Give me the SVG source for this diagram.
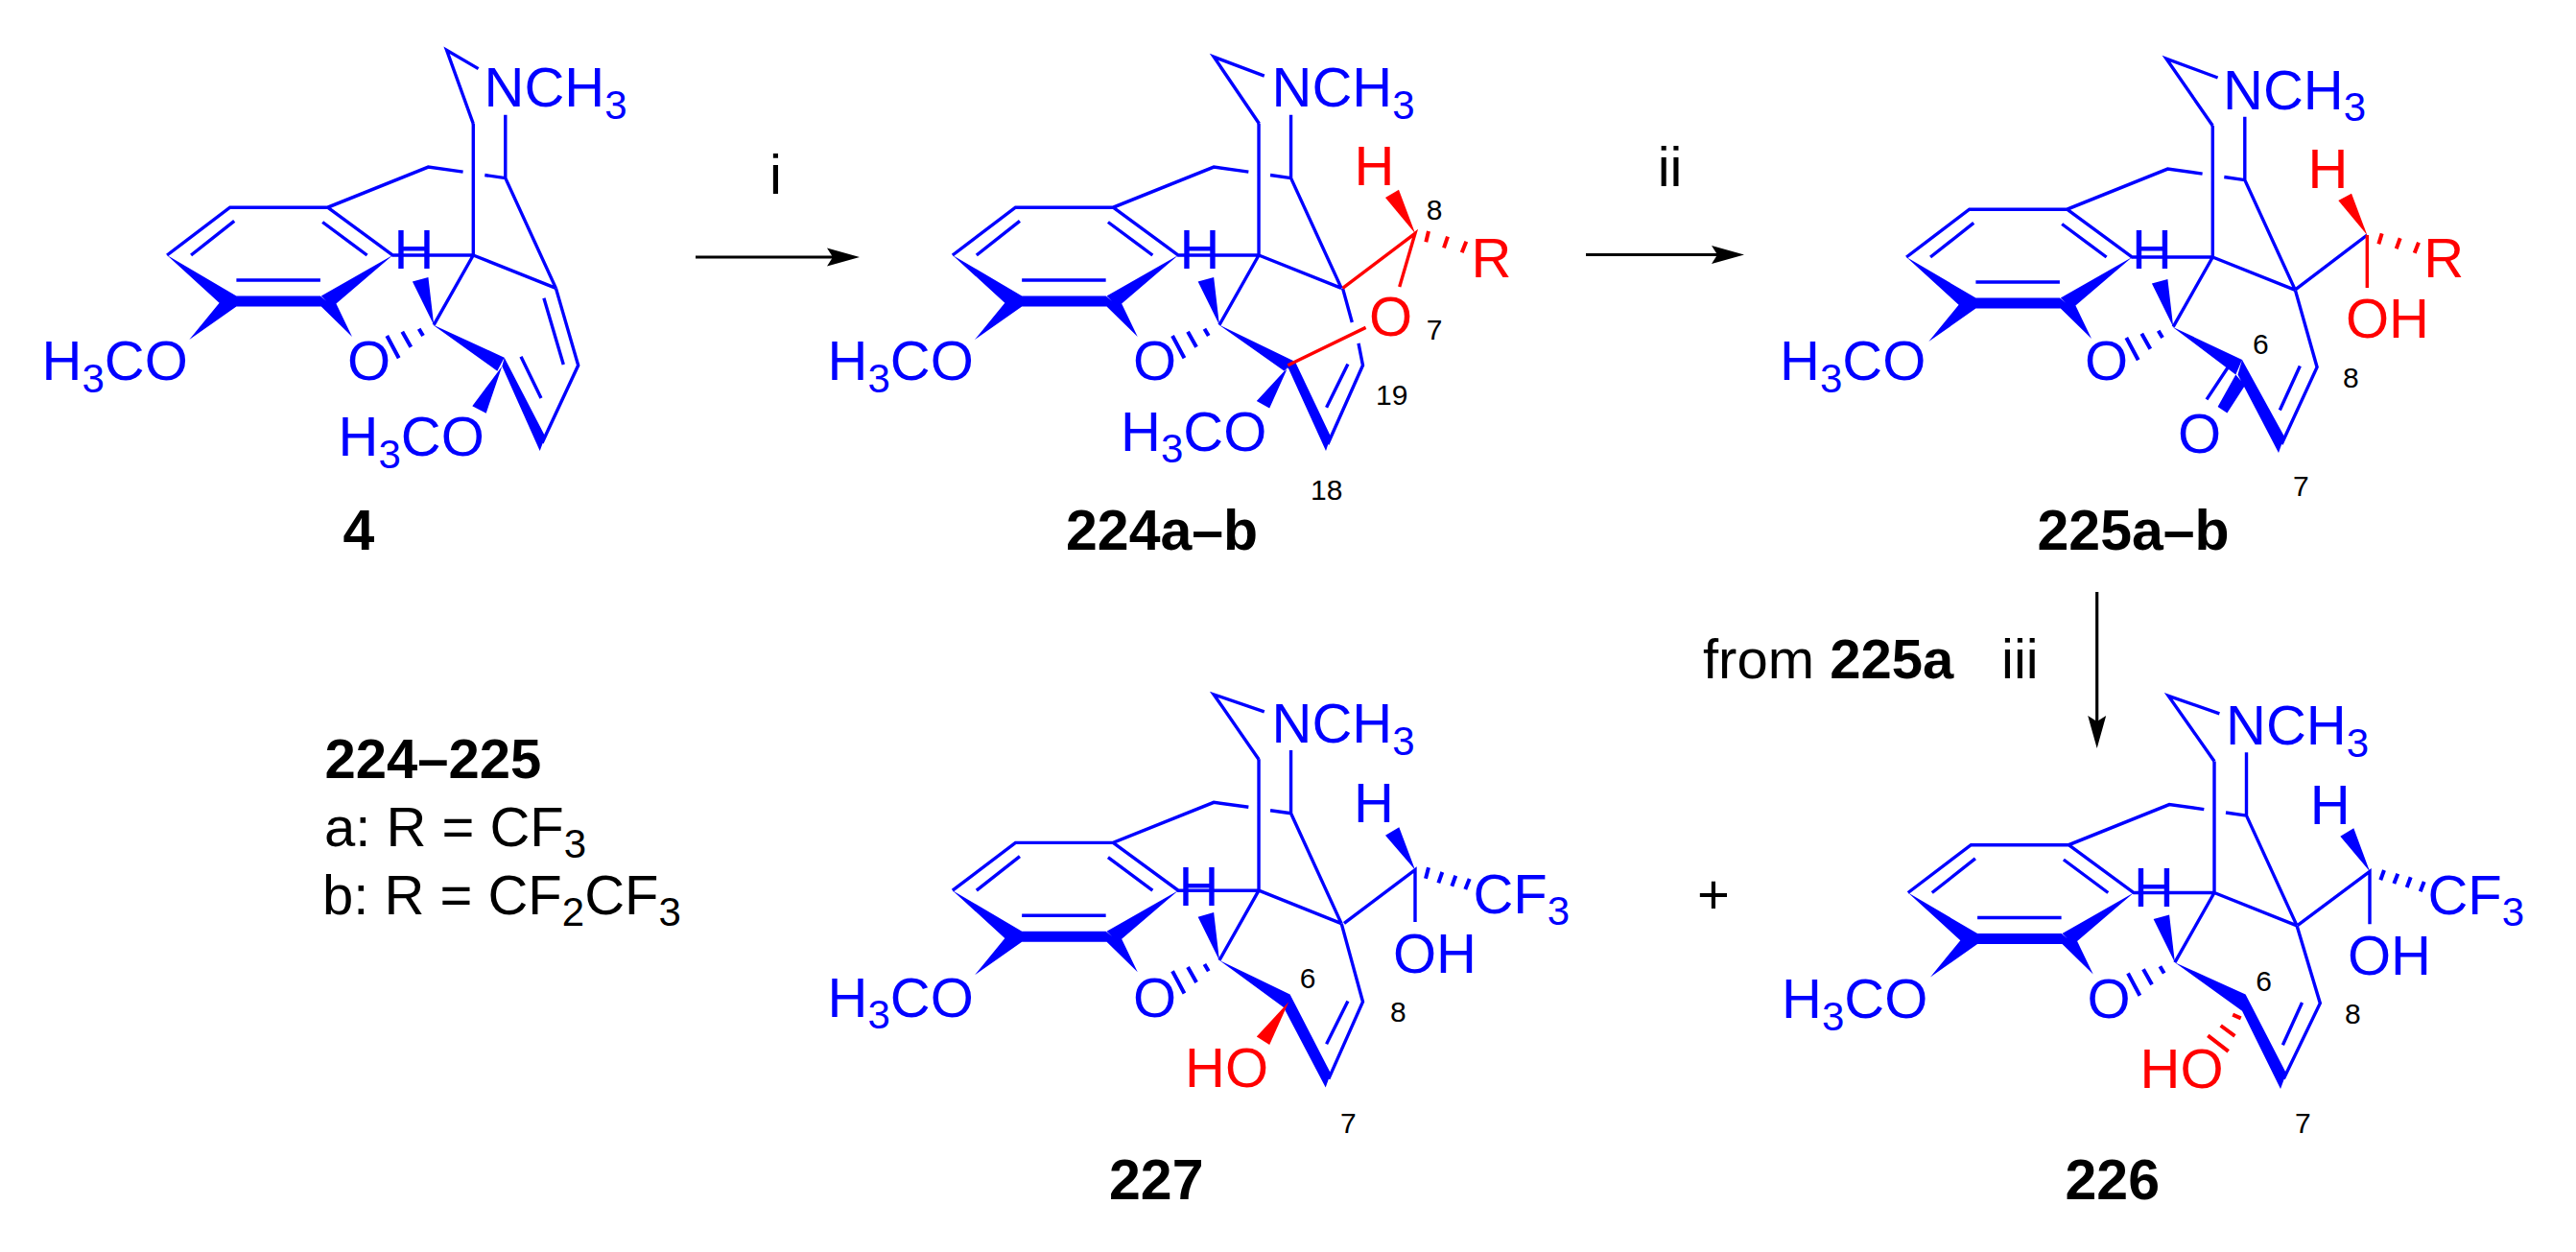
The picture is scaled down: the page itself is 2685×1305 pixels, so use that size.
<svg xmlns="http://www.w3.org/2000/svg" width="2685" height="1305" viewBox="0 0 2685 1305">
<style>
text{font-family:"Liberation Sans",Arial,sans-serif;font-size:58px;fill:#000}
.bl{fill:#00f}.rd{fill:#f00}
.n{font-size:30px}
.B{font-weight:700}
.L{font-weight:700;font-size:59px}
.s{font-size:42px}
.bb{fill:none;stroke:#00f;stroke-width:3.4}
.rb{fill:none;stroke:#f00;stroke-width:3.4}
.bh{fill:none;stroke:#00f;stroke-width:4}
.rh{fill:none;stroke:#f00;stroke-width:4}
.bw{fill:#00f;stroke:none}
.rw{fill:#f00;stroke:none}
.ar{fill:none;stroke:#000;stroke-width:3.2;marker-end:url(#head)}
</style>
<defs>
<marker id="head" markerUnits="userSpaceOnUse" markerWidth="34" markerHeight="20" viewBox="0 0 34 20" refX="6" refY="10" orient="auto"><path d="M0 .5L34 10L0 19.5L6 10Z" fill="#000"/></marker>
<g id="core">
<path class="bb" d="M493.3 129V266M526.8 119.8V185.6L505.3 182.5M482.6 179.1L446.4 174.1L341.5 216.2H239.7L174.1 266M341.5 216.2L409.4 266H493.3M244.2 230.4L199.1 266M336.2 231.5L382.6 266M246.4 292H333.9M493.3 266L452.2 338.7M493.3 266L579.4 300.4M526.8 185.6L579.4 300.4"/>
<path class="bh" d="M436.7 342.7L441 350M419.3 345.7L428.3 361.7M403.3 350L415.7 373.3"/>
<path class="bw" d="M239.7 313.8L246.4 308.5H333.9L340.2 313.8L334.8 319.6H246.4ZM174.1 266L246.4 308.5L239.7 313.8L228.6 315.7ZM409.4 266L334.8 308.5L340.2 313.8L350.4 316.5ZM197.3 354L228.6 315.7L239.7 313.8L246.4 319.6ZM367 351L334.8 319.6L340.2 313.8L350.4 316.5ZM452.2 338.7L429.9 293.5L446.4 288.9Z"/>
</g>
</defs>
<g id="connectors">
<path class="ar" d="M725 268H868"/>
<path class="ar" d="M1653 265.5H1790"/>
<path class="ar" d="M2185.7 617V752"/>
</g>
<g id="reagents">
<text x="802" y="201.7">i</text>
<text x="1727.7" y="194.3">ii</text>
<text x="2086" y="707.4">iii</text>
<text x="1775" y="707.4">from <tspan class="B">225a</tspan></text>
<text x="1769" y="952">+</text>
</g>
<g id="legend">
<text class="B" x="338.5" y="810.7">224–225</text>
<text x="338" y="881.7">a: R = CF<tspan class="s" dy="12.5">3</tspan></text>
<text x="336" y="952.7">b: R = CF<tspan class="s" dy="12.5">2</tspan><tspan dy="-12.5">CF</tspan><tspan class="s" dy="12.5">3</tspan></text>
</g>
<g id="mol4">
<use href="#core"/>
<path class="bb" d="M498.6 71.6L465.6 52.4L493.3 129M579.4 300.4L602.7 380.8L565 461.7M566.9 310.8L587.3 380M543 371.7L564 415"/>
<path class="bw" d="M450.7 338.3L525.7 372.7L518.3 386.7ZM525.7 372.7L568.3 455L562.7 470L523.3 381.7ZM523.3 381.7L492.3 423.3L506.7 430.7Z"/>
<text class="bl" x="504.5" y="111">NCH<tspan class="s" dy="12.5">3</tspan></text>
<text class="bl" x="410.5" y="280">H</text>
<text class="bl" x="362" y="396">O</text>
<text class="bl" x="43.5" y="396">H<tspan class="s" dy="12.5">3</tspan><tspan dy="-12.5">CO</tspan></text>
<text class="bl" x="352.5" y="475">H<tspan class="s" dy="12.5">3</tspan><tspan dy="-12.5">CO</tspan></text>
<text class="L" x="357.5" y="573">4</text>
</g>
<g id="mol224">
<use href="#core" transform="translate(818.75 0)"/>
<path class="bb" d="M1317.8 79.2L1265.2 59.3L1312.5 129M1399.5 300.4L1409.3 336M1416 357.8L1420.5 380.8L1383.9 463M1404.9 379.6L1382.6 424.8"/>
<path class="bw" d="M1270 338.3L1350 377L1339 387ZM1350 377L1387 455L1382 470L1342.4 382.7ZM1342.4 382.7L1309.8 417.9L1323.2 425.6Z"/>
<path class="rb" d="M1342.4 380.8L1423.6 341.4M1399.5 300.4L1475 243.3L1458.7 299"/>
<path class="rw" d="M1475 243.3L1444 206L1458 197.7Z"/>
<path class="rh" d="M1489 241L1486.3 252.3M1509 246.7L1505 258.3M1528.3 251.7L1523.7 263.3"/>
<text class="bl" x="1325.5" y="111">NCH<tspan class="s" dy="12.5">3</tspan></text>
<text class="bl" x="1229.5" y="280">H</text>
<text class="bl" x="1181" y="396">O</text>
<text class="bl" x="862.5" y="396">H<tspan class="s" dy="12.5">3</tspan><tspan dy="-12.5">CO</tspan></text>
<text class="bl" x="1168" y="469.6">H<tspan class="s" dy="12.5">3</tspan><tspan dy="-12.5">CO</tspan></text>
<text class="rd" x="1411.4" y="192.7">H</text>
<text class="rd" x="1533.5" y="289">R</text>
<text class="rd" x="1427" y="350">O</text>
<text class="n" x="1486.7" y="229">8</text>
<text class="n" x="1486.7" y="354">7</text>
<text class="n" x="1434" y="421.7">19</text>
<text class="n" x="1366" y="520.5">18</text>
<text class="L" x="1111" y="573">224a–b</text>
</g>
<g id="mol225">
<use href="#core" transform="translate(1813 2)"/>
<path class="bb" d="M2311.6 81L2258 61.2L2306.3 131M2392.4 302.4L2415.1 382.7L2378.1 463M2397.3 381.5L2376.3 427.5M2322.3 382.7L2300 416.4M2392.8 301.6L2467.3 245"/>
<path class="bw" d="M2264.4 340.7L2337 375L2330.3 390.4ZM2337 375L2381 455L2375 472L2332.5 390.4ZM2330.3 390.4L2340 401.8L2321.4 430.5L2311.6 424Z"/>
<path class="rb" d="M2467.3 245V300"/>
<path class="rw" d="M2467.3 245L2437.3 209L2451 201.7Z"/>
<path class="rh" d="M2482.7 243.3L2479.3 254.3M2501.7 248.3L2497.7 259.3M2521 252.7L2516.7 263.7"/>
<text class="bl" x="2317" y="113.7">NCH<tspan class="s" dy="12.5">3</tspan></text>
<text class="bl" x="2222" y="280">H</text>
<text class="bl" x="2173" y="396">O</text>
<text class="bl" x="1855" y="396">H<tspan class="s" dy="12.5">3</tspan><tspan dy="-12.5">CO</tspan></text>
<text class="bl" x="2270" y="471.5">O</text>
<text class="rd" x="2405.4" y="195.7">H</text>
<text class="rd" x="2526.3" y="289">R</text>
<text class="rd" x="2445" y="352.3">OH</text>
<text class="n" x="2348" y="369">6</text>
<text class="n" x="2442" y="403.7">8</text>
<text class="n" x="2390" y="517.4">7</text>
<text class="L" x="2123.5" y="573">225a–b</text>
</g>
<g id="mol226">
<use href="#core" transform="translate(1814.7 664.5)"/>
<path class="bb" d="M2313.4 743.8L2260.2 725.4L2308 793.5M2394.1 964.9L2418.3 1045.7L2380.3 1124.6M2399.5 1045L2379.4 1089.3M2395 964.3L2470 908.3V963.3"/>
<path class="bw" d="M2266.9 1003.2L2340.6 1036.5L2337 1053.7ZM2340.6 1036.5L2383 1118.8L2377 1135L2337 1053.7ZM2439.3 871.7L2453.3 863.3L2470 908.3Z"/>
<path class="bh" d="M2485 907L2481.3 917.3M2499.3 910.7L2495.3 921M2512.7 914.3L2508.7 925M2526.7 919L2522.7 929.3"/>
<path class="rh" d="M2327.2 1057.6L2335.7 1061.4M2314.7 1069L2329.4 1079.8M2301.3 1079.4L2322.7 1095.8"/>
<text class="bl" x="2320" y="776.3">NCH<tspan class="s" dy="12.5">3</tspan></text>
<text class="bl" x="2224" y="945.4">H</text>
<text class="bl" x="2175.5" y="1061.4">O</text>
<text class="bl" x="1857" y="1061.4">H<tspan class="s" dy="12.5">3</tspan><tspan dy="-12.5">CO</tspan></text>
<text class="bl" x="2407.7" y="859">H</text>
<text class="bl" x="2530.4" y="952.7">CF<tspan class="s" dy="12.5">3</tspan></text>
<text class="bl" x="2447" y="1015.7">OH</text>
<text class="rd" x="2230.6" y="1134">HO</text>
<text class="n" x="2351.3" y="1033.3">6</text>
<text class="n" x="2444" y="1067.3">8</text>
<text class="n" x="2392" y="1180.7">7</text>
<text class="L" x="2152.5" y="1250">226</text>
</g>
<g id="mol227">
<use href="#core" transform="translate(818.75 662.2)"/>
<path class="bb" d="M1317.8 741.8L1265.2 723.9L1312 791.5M1398.2 962.6L1420.5 1044.2L1384.8 1124.6M1404.9 1043.4L1382.6 1088.2M1401 962.3L1475 906.7V961"/>
<path class="bw" d="M1271 1000.9L1344.6 1036.5L1337.9 1050ZM1344.6 1036.5L1387 1118.8L1381.7 1133.5L1337.9 1050ZM1444 870.7L1458.3 862.3L1475 906.7Z"/>
<path class="rw" d="M1343.3 1044.2L1309.8 1080.5L1323.2 1089Z"/>
<path class="bh" d="M1489 904.3L1486 915.7M1503.3 909L1499.3 920.3M1517.3 912.7L1513.3 923.7M1531.7 916L1527.3 927"/>
<text class="bl" x="1325.5" y="774.4">NCH<tspan class="s" dy="12.5">3</tspan></text>
<text class="bl" x="1228.5" y="944">H</text>
<text class="bl" x="1181" y="1059.5">O</text>
<text class="bl" x="862.5" y="1059.5">H<tspan class="s" dy="12.5">3</tspan><tspan dy="-12.5">CO</tspan></text>
<text class="bl" x="1411.1" y="856.7">H</text>
<text class="bl" x="1535.4" y="951.7">CF<tspan class="s" dy="12.5">3</tspan></text>
<text class="bl" x="1452" y="1014">OH</text>
<text class="rd" x="1235.1" y="1133">HO</text>
<text class="n" x="1354.8" y="1030">6</text>
<text class="n" x="1449" y="1065">8</text>
<text class="n" x="1397" y="1180.7">7</text>
<text class="L" x="1156" y="1250">227</text>
</g>
</svg>
